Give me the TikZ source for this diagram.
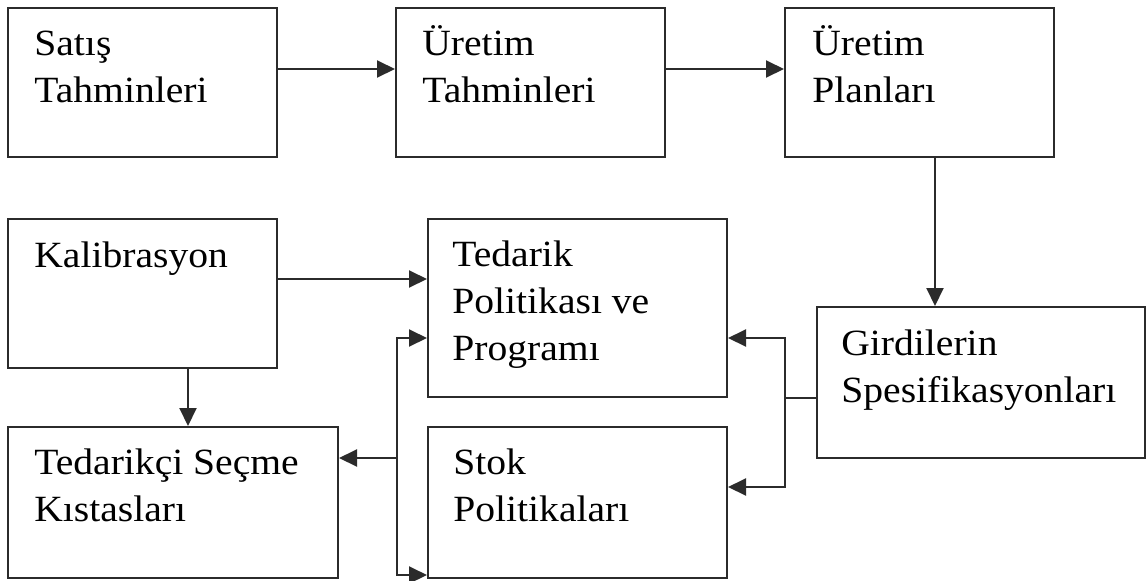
\documentclass[tikz,border=0pt]{standalone}
\usepackage{fontspec}
\setmainfont{Liberation Serif}[FakeStretch=1.07]
\usepackage{tikz}
\usetikzlibrary{arrows.meta,calc}
\definecolor{cizgi}{HTML}{2B2B2B}
\tikzset{
  ok/.style={-{Triangle[length=9pt,width=8.5pt]},line width=1pt,draw=cizgi},
  yazi/.style={anchor=base west,inner sep=0pt,font=\fontsize{18.5}{23.5}\selectfont},
}
\newcommand{\satirlar}[1]{\begin{tabular}[t]{@{}l@{}}#1\end{tabular}}

\begin{document}
\begin{tikzpicture}[x=0.5pt,y=-0.5pt,
  kutu/.style={rectangle,draw=cizgi,line width=1pt,inner sep=0pt,
    minimum width=134.5pt,minimum height=74.5pt},
]
  \useasboundingbox (0,0) rectangle (1148,580);
  % ust sira
  \node[kutu] (satis) at (142.5,82.5) {};
  \node[kutu] (uretimt) at (530.5,82.5) {};
  \node[kutu] (uretimp) at (919.5,82.5) {};
  % alt sira
  \node[kutu] (kalib) at (142.5,293.5) {};
  \node[kutu,minimum width=149.5pt,minimum height=89pt] (tedarik) at (577.5,308) {};
  \node[kutu,minimum width=164pt,minimum height=75.5pt] (girdi) at (981,382.5) {};
  \node[kutu,minimum width=165pt,minimum height=75.5pt] (tedarikci) at (173,502.5) {};
  \node[kutu,minimum width=149.5pt,minimum height=75.5pt] (stok) at (577.5,502.5) {};
  % metinler
  \node[yazi] (satis-t) at ([shift={(27,48)}]satis.north west) {\satirlar{Satış\\Tahminleri}};
  \node[yazi] (uretimt-t) at ([shift={(27,48)}]uretimt.north west) {\satirlar{Üretim\\Tahminleri}};
  \node[yazi] (uretimp-t) at ([shift={(28,48)}]uretimp.north west) {\satirlar{Üretim\\Planları}};
  \node[yazi] (kalib-t) at ([shift={(27,49)}]kalib.north west) {\satirlar{Kalibrasyon}};
  \node[yazi] (tedarik-t) at ([shift={(25,48)}]tedarik.north west) {\satirlar{Tedarik\\Politikası ve\\Programı}};
  \node[yazi] (girdi-t) at ([shift={(25,49)}]girdi.north west) {\satirlar{Girdilerin\\Spesifikasyonları}};
  \node[yazi] (tedarikci-t) at ([shift={(27,48)}]tedarikci.north west) {\satirlar{Tedarikçi Seçme\\Kıstasları}};
  \node[yazi] (stok-t) at ([shift={(26,48)}]stok.north west) {\satirlar{Stok\\Politikaları}};
  % oklar
  \draw[ok] (satis.east |- 0,69) -- (uretimt.west |- 0,69);
  \draw[ok] (uretimt.east |- 0,69) -- (uretimp.west |- 0,69);
  \draw[ok] (uretimp.south -| 935,0) -- (girdi.north -| 935,0);
  \draw[ok] (kalib.east |- 0,279) -- (tedarik.west |- 0,279);
  \draw[ok] (kalib.south -| 188,0) -- (tedarikci.north -| 188,0);
  \coordinate (sag) at (785,398);
  \draw[line width=1pt,draw=cizgi] (girdi.west |- sag) -- (sag);
  \draw[ok] (sag) |- (tedarik.east |- 0,338);
  \draw[ok] (sag) |- (stok.east |- 0,487);
  \coordinate (sol) at (397,458);
  \draw[ok] (sol) |- (tedarik.west |- 0,338);
  \draw[ok] (sol) -- (tedarikci.east |- sol);
  \draw[ok] (sol) |- (stok.west |- 0,575);
\end{tikzpicture}
\end{document}
